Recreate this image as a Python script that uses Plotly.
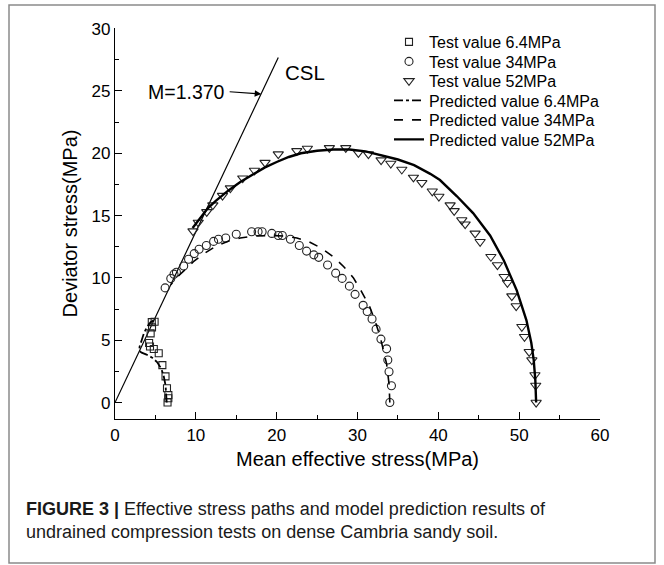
import plotly.graph_objects as go

# ---- measured stress paths (p', q) in MPa ----
test_64_p = [6.5, 6.6, 6.6, 6.43, 6.25, 5.86, 5.41, 4.8, 4.33, 4.22, 4.41, 4.58, 4.9, 4.55]
test_64_q = [0.0, 0.35, 0.6, 1.15, 2.1, 3.0, 3.95, 4.3, 4.5, 4.78, 5.55, 6.03, 6.48, 6.45]

test_34_p = [6.2, 6.9, 7.3, 7.6, 8.5, 9.1, 9.8, 10.4, 11.3, 12.2, 12.8, 13.7, 15.0,
             16.9, 17.7, 18.2, 19.4, 20.2, 20.7, 21.7, 22.8, 23.7, 24.6, 25.2, 26.3,
             27.3, 28.1, 29.0, 29.7, 30.7, 31.2, 31.8, 32.3, 32.9, 33.6, 33.75, 33.9,
             34.2, 34.0]
test_34_q = [9.2, 9.95, 10.3, 10.45, 10.95, 11.5, 11.95, 12.3, 12.6, 12.93, 13.1, 13.2, 13.5,
             13.7, 13.7, 13.7, 13.57, 13.4, 13.4, 13.1, 12.6, 12.15, 11.85, 11.65, 11.03,
             10.38, 9.96, 9.34, 8.68, 7.8, 7.31, 6.7, 5.89, 5.09, 4.31, 3.41, 2.47,
             1.35, 0.0]

test_52_p = [9.65, 10.3, 11.35, 12.1, 13.3, 14.27, 15.8, 17.25, 18.56, 20.2, 22.49, 23.8,
             26.52, 28.55, 30.11, 31.35, 32.92, 34.12, 35.48, 36.92, 37.96, 39.25, 40.07,
             41.46, 41.96, 42.9, 43.32, 44.55, 45.17, 46.5, 47.31, 48.14, 48.55, 49.09,
             49.63, 50.33, 50.66, 51.24, 51.57, 51.95, 52.05, 52.1]
test_52_q = [13.75, 14.45, 15.3, 15.84, 16.6, 17.2, 18.0, 18.62, 19.25, 19.93, 20.19, 20.38,
             20.43, 20.43, 20.03, 19.93, 19.45, 19.18, 18.7, 18.06, 17.63, 16.95, 16.53,
             15.84, 15.38, 14.64, 14.31, 13.57, 12.9, 11.7, 11.03, 10.09, 9.61, 8.54,
             7.74, 6.08, 5.28, 4.07, 3.41, 2.21, 1.37, 0.0]

# ---- model predictions ----
pred_64_p = [6.4, 6.35, 6.25, 6.0, 5.7, 5.2, 4.6, 3.9, 3.3, 3.0, 3.05, 3.3, 3.6, 4.0, 4.4, 4.8]
pred_64_q = [0.0, 0.8, 1.4, 2.2, 2.75, 3.25, 3.6, 3.85, 4.0, 4.15, 4.5, 5.0, 5.6, 6.1, 6.45, 6.6]

pred_34_p = [34.0, 33.9, 33.6, 33.2, 32.8, 32.2, 31.5, 30.5, 29.5, 28.3, 27.0, 25.5, 24.0,
             22.5, 21.0, 19.5, 18.3, 17.0, 15.5, 14.0, 12.5, 11.0, 9.7, 8.5, 7.6, 6.9]
pred_34_q = [0.0, 1.5, 3.1, 4.3, 5.3, 6.5, 7.7, 8.9, 10.0, 10.9, 11.7, 12.4, 12.9,
             13.2, 13.35, 13.4, 13.4, 13.35, 13.2, 12.95, 12.55, 11.95, 11.3, 10.6, 10.0, 9.45]

pred_52_p = [9.6, 10.5, 11.5, 12.5, 14.0, 15.5, 17.0, 18.5, 20.0, 21.5, 23.0, 25.0, 27.0,
             29.0, 31.0, 33.0, 35.0, 37.0, 39.0, 40.2, 41.3, 42.3, 44.3, 46.4, 48.1, 49.7,
             50.9, 51.5, 51.8, 52.0, 52.1]
pred_52_q = [14.0, 14.8, 15.6, 16.2, 17.0, 17.7, 18.3, 18.85, 19.3, 19.7, 20.0, 20.2, 20.3,
             20.3, 20.15, 19.85, 19.5, 19.05, 18.35, 17.85, 17.2, 16.55, 15.2, 13.4, 11.4, 9.0,
             6.6, 4.8, 3.4, 1.8, 0.0]

# ---- critical state line q = M p' ----
M = 1.370
csl_p = [0.0, 20.2]
csl_q = [M * v for v in csl_p]

x_ticks = [0, 10, 20, 30, 40, 50, 60]
y_ticks = [0, 5, 10, 15, 20, 25, 30]

FONT = "Liberation Sans, Arial, sans-serif"
INK = "#222222"

W, H = 664, 565
L, R, T, B = 115, 64, 28, 146
pw, ph = W - L - R, H - T - B


def px_x(px):
    return (px - L) / pw


def px_y(py):
    return (H - B - py) / ph


fig = go.Figure()

fig.add_trace(go.Scatter(x=csl_p, y=csl_q, mode="lines",
                         line=dict(color="black", width=1.2), showlegend=False, hoverinfo="skip"))

# each series gets its own single-entry legend so the rows can be packed tightly
series = [
    dict(x=test_64_p, y=test_64_q, mode="markers", name="Test value 6.4MPa",
         marker=dict(symbol="square-open", size=7, color=INK, line=dict(width=1.1))),
    dict(x=test_34_p, y=test_34_q, mode="markers", name="Test value 34MPa",
         marker=dict(symbol="circle-open", size=8, color=INK, line=dict(width=1.1))),
    dict(x=test_52_p, y=test_52_q, mode="markers", name="Test value 52MPa",
         marker=dict(symbol="triangle-down-open", size=9, color=INK, line=dict(width=1.1))),
    dict(x=pred_64_p, y=pred_64_q, mode="lines", name="Predicted value 6.4MPa",
         line=dict(color="black", width=1.8, dash="dashdot")),
    dict(x=pred_34_p, y=pred_34_q, mode="lines", name="Predicted value 34MPa",
         line=dict(color="black", width=1.6, dash="dash")),
    dict(x=pred_52_p, y=pred_52_q, mode="lines", name="Predicted value 52MPa",
         line=dict(color="black", width=2.4)),
]
legend_rows = [42, 61.5, 81, 100.5, 120, 139.5]

legend_layout = {}
for i, (s, row) in enumerate(zip(series, legend_rows)):
    key = "legend" if i == 0 else f"legend{i + 1}"
    fig.add_trace(go.Scatter(legend=key, **s))
    legend_layout[key] = dict(x=px_x(389), y=px_y(row), xanchor="left", yanchor="middle",
                              font=dict(family=FONT, size=16, color="black"),
                              bgcolor="rgba(0,0,0,0)", borderwidth=0, itemwidth=30)

axis_common = dict(showline=True, linecolor="black", linewidth=1.3, mirror=False,
                   showgrid=False, zeroline=False, ticks="inside", ticklen=7,
                   tickwidth=1.2, tickcolor="black",
                   tickfont=dict(family=FONT, size=17, color="black"))

fig.update_xaxes(range=[0, 60], tickvals=x_ticks, **axis_common,
                 minor=dict(ticks="inside", ticklen=4, tickwidth=1.1, tickcolor="black", dtick=5, tick0=0),
                 title=dict(text="Mean effective stress(MPa)", font=dict(family=FONT, size=20, color="black"),
                            standoff=8))
fig.update_yaxes(range=[-1.32, 30.05], tickvals=y_ticks, **axis_common,
                 minor=dict(ticks="inside", ticklen=4, tickwidth=1.1, tickcolor="black", dtick=2.5, tick0=0),
                 title=dict(text="Deviator stress(MPa)", font=dict(family=FONT, size=20, color="black"),
                            standoff=8))

# slope label with arrow and CSL label
fig.add_annotation(x=18.1, y=24.75, ax=14.0, ay=24.95, xref="x", yref="y", axref="x", ayref="y",
                   text="", showarrow=True, arrowhead=2, arrowsize=1.2, arrowwidth=1.1, arrowcolor="black")
fig.add_annotation(x=13.9, y=24.95, xref="x", yref="y", text="M=1.370", showarrow=False,
                   xanchor="right", yanchor="middle", font=dict(family=FONT, size=19.5, color="black"))
fig.add_annotation(x=20.8, y=26.45, xref="x", yref="y", text="CSL", showarrow=False,
                   xanchor="left", yanchor="middle", font=dict(family=FONT, size=20.5, color="black"))

# outer frame around figure and caption
fig.add_shape(type="rect", xref="paper", yref="paper",
              x0=px_x(9), x1=px_x(655), y0=px_y(563), y1=px_y(5),
              line=dict(color="#8a8a8a", width=1.5), fillcolor="rgba(0,0,0,0)", layer="below")

fig.add_annotation(xref="paper", yref="paper", x=px_x(24), y=px_y(497), xanchor="left", yanchor="top",
                   align="left", showarrow=False,
                   text="<b>FIGURE 3 |</b> Effective stress paths and model prediction results of<br>"
                        "undrained compression tests on dense Cambria sandy soil.",
                   font=dict(family=FONT, size=18, color="#1a1a1a"))

fig.update_layout(
    width=W, height=H,
    margin=dict(l=L, r=R, t=T, b=B),
    paper_bgcolor="white", plot_bgcolor="white",
    **legend_layout,
)

fig.write_html("out.html")
